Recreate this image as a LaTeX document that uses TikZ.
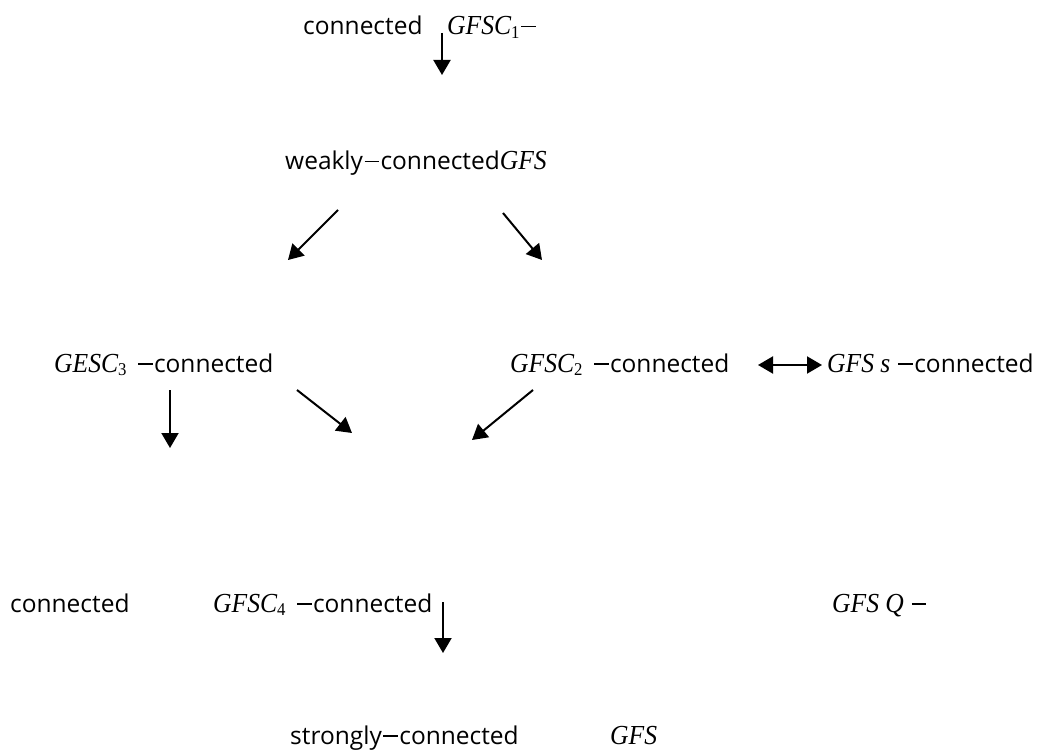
\documentclass[tikz,border=0pt]{standalone}
\usepackage{fontspec}
\setmainfont{Open Sans}
\newfontfamily\mathfont[FakeStretch=0.93]{Liberation Serif}
\usetikzlibrary{arrows.meta}

% italic symbols, lowered indices and the minus sign of the formulas
\newcommand{\mi}[1]{{\mathfont\itshape\fontsize{27.5}{30}\selectfont #1}}
\newcommand{\msub}[1]{\raisebox{-0.3ex}{\mathfont\fontsize{18}{18}\selectfont #1}}
\newcommand{\mminus}{{\kern1.5pt\rule[7.5pt]{14.5pt}{1.4pt}\kern1.5pt}}
\newcommand{\opgap}{\hspace{10pt}}

\begin{document}
\begin{tikzpicture}[x=1pt,y=-1pt,
  lbl/.style={anchor=base west, inner sep=0pt, font=\fontsize{24.5}{28}\selectfont},
  arr/.style={line width=2pt, -{Triangle[width=17pt,length=15pt]}},
  darr/.style={line width=2pt, {Triangle[width=17pt,length=15pt]}-{Triangle[width=17pt,length=15pt]}}]
\useasboundingbox (0,0) rectangle (1046,751);

% labels
\node[lbl] (c1) at (303,35) {connected};
\node[lbl] (g1) at (447,35) {\mi{GFSC}\msub{1}\mminus};
\node[lbl] (weak) at (285,170) {weakly\mminus connected\mi{GFS}};
\node[lbl] (g3) at (54,372) {\mi{GESC}\msub{3}\opgap\mminus connected};
\node[lbl] (g2) at (510,372) {\mi{GFSC}\msub{2}\opgap\mminus connected};
\node[lbl] (gs) at (827,372) {\mi{GFS s} \mminus connected};
\node[lbl] (c4) at (10,612) {connected};
\node[lbl] (g4) at (213,612) {\mi{GFSC}\msub{4}\opgap\mminus connected};
\node[lbl] (gq) at (832,612) {\mi{GFS Q} \mminus};
\node[lbl] (strong) at (290,744) {strongly\mminus connected};
\node[lbl] (gfs) at (610,744) {\mi{GFS}};

% arrow end points
\coordinate (a1s) at (442,33);  \coordinate (a1e) at (442,75);
\coordinate (a2s) at (338,210); \coordinate (a2e) at (288,260);
\coordinate (a3s) at (503,213); \coordinate (a3e) at (542,260);
\coordinate (a4s) at (170,390); \coordinate (a4e) at (170,448);
\coordinate (a5s) at (297,390); \coordinate (a5e) at (352,433);
\coordinate (a6s) at (533,390); \coordinate (a6e) at (472,440);
\coordinate (d1) at (758,365);  \coordinate (d2) at (822,365);
\coordinate (a7s) at (443,602); \coordinate (a7e) at (443,653);

% arrows
\draw[arr] (a1s) -- (a1e);
\draw[arr] (a2s) -- (a2e);
\draw[arr] (a3s) -- (a3e);
\draw[arr] (a4s) -- (a4e);
\draw[arr] (a5s) -- (a5e);
\draw[arr] (a6s) -- (a6e);
\draw[darr] (d1) -- (d2);
\draw[arr] (a7s) -- (a7e);
\end{tikzpicture}
\end{document}
